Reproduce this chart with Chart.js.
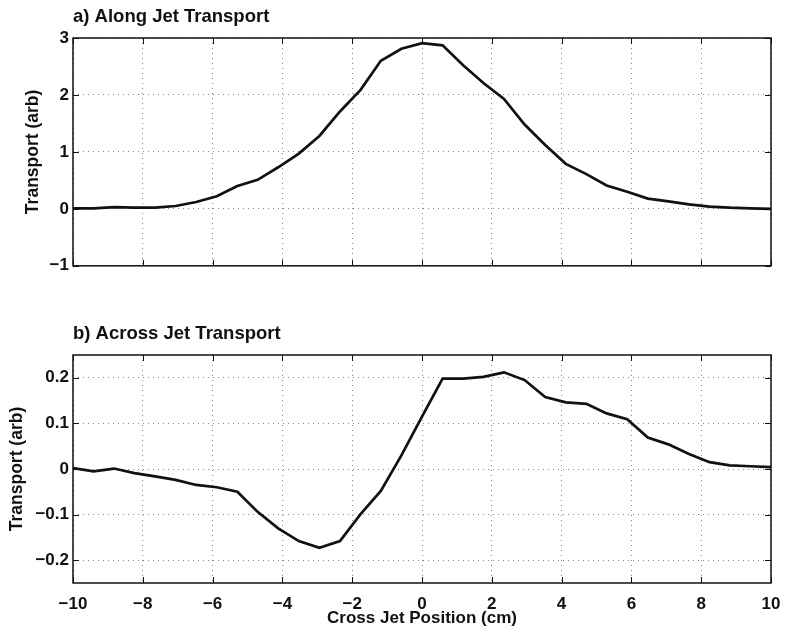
<!DOCTYPE html>
<html><head><meta charset="utf-8">
<script src="https://cdn.jsdelivr.net/npm/chart.js@4/dist/chart.umd.min.js"></script>
<style>
html,body{margin:0;padding:0;background:#fff;}
#wrap{position:relative;width:785px;height:634px;overflow:hidden;}
#c1{position:absolute;left:0;top:0;}
#c2{position:absolute;left:0;top:280px;}
</style></head>
<body><div id="wrap"><canvas id="c1" width="785" height="280"></canvas><canvas id="c2" width="785" height="354"></canvas></div>
<script>
const positions = [-10,-9.41,-8.82,-8.24,-7.65,-7.06,-6.47,-5.88,-5.29,-4.71,-4.12,-3.53,-2.94,-2.35,-1.76,-1.18,-0.59,0,0.59,1.18,1.76,2.35,2.94,3.53,4.12,4.71,5.29,5.88,6.47,7.06,7.65,8.24,8.82,9.41,10];
const alongJet = [0.01,0.01,0.03,0.02,0.02,0.05,0.12,0.22,0.40,0.51,0.73,0.97,1.28,1.71,2.09,2.60,2.81,2.91,2.87,2.52,2.21,1.93,1.48,1.12,0.79,0.61,0.41,0.30,0.18,0.13,0.08,0.04,0.02,0.01,0.0];
const acrossJet = [0.002,-0.005,0.001,-0.009,-0.016,-0.024,-0.035,-0.040,-0.050,-0.094,-0.130,-0.158,-0.173,-0.158,-0.099,-0.048,0.030,0.115,0.198,0.198,0.202,0.212,0.195,0.158,0.146,0.143,0.122,0.109,0.069,0.054,0.033,0.015,0.008,0.006,0.004];
const xTicks = [-10,-8,-6,-4,-2,0,2,4,6,8,10];
const yTicksTop = [-1,0,1,2,3];
const yTicksBottom = [-0.2,-0.1,0,0.1,0.2];
const titles = ['a) Along Jet Transport','b) Across Jet Transport'];
const xLabel = 'Cross Jet Position (cm)';
const yLabel = 'Transport (arb)';

const FONT = "'Liberation Sans', Arial, Helvetica, sans-serif";
const fmt = v => String(Math.round(v*10)/10).replace('-', '\u2212');

const framePlugin = {
  id: 'frame',
  afterDraw(chart, args, opts) {
    const ctx = chart.ctx, a = chart.chartArea;
    const xs = chart.scales.x, ys = chart.scales.y;
    ctx.save();
    ctx.strokeStyle = '#111';
    ctx.lineWidth = 1.5;
    ctx.strokeRect(a.left, a.top, a.right - a.left, a.bottom - a.top);
    ctx.lineWidth = 1;
    const L = 6;
    ctx.beginPath();
    xs.ticks.forEach(t => {
      const px = Math.round(xs.getPixelForValue(t.value)) + 0.5;
      ctx.moveTo(px, a.bottom); ctx.lineTo(px, a.bottom - L);
      ctx.moveTo(px, a.top); ctx.lineTo(px, a.top + L);
    });
    ys.ticks.forEach(t => {
      const py = Math.round(ys.getPixelForValue(t.value)) + 0.5;
      ctx.moveTo(a.left, py); ctx.lineTo(a.left + L, py);
      ctx.moveTo(a.right, py); ctx.lineTo(a.right - L, py);
    });
    ctx.stroke();
    ctx.fillStyle = '#111';
    ctx.font = 'bold 18.5px ' + FONT;
    ctx.textAlign = 'left';
    ctx.textBaseline = 'alphabetic';
    ctx.fillText(opts.title, a.left, a.top - 16);
    ctx.restore();
  }
};

function makeChart(id, values, yMin, yMax, yTicks, showX, title, padTop, padLeft, yTitlePad) {
  return new Chart(document.getElementById(id), {
    type: 'line',
    data: { datasets: [{
      data: positions.map((x, i) => ({x: x, y: values[i]})),
      borderColor: '#111', borderWidth: 2.7, pointRadius: 0, tension: 0, fill: false
    }]},
    options: {
      responsive: false, animation: false, devicePixelRatio: 1,
      layout: { padding: { top: padTop, right: 14, left: padLeft, bottom: showX ? 0 : 14 } },
      plugins: { legend: {display: false}, tooltip: {enabled: false}, frame: { title: title } },
      scales: {
        x: {
          type: 'linear', min: -10, max: 10,
          afterBuildTicks: s => { s.ticks = xTicks.map(v => ({value: v})); },
          ticks: { display: showX, color: '#111', font: {family: FONT, size: 17, weight: 'bold'}, padding: 11, maxRotation: 0, callback: v => fmt(v) },
          grid: { color: '#888', lineWidth: 1, drawTicks: false },
          border: { display: false, dash: [1, 4] },
          title: { display: showX, text: xLabel, color: '#111', font: {family: FONT, size: 17, weight: 'bold'}, padding: {top: 0, bottom: 5} },
          afterFit: s => { s.height = showX ? 51 : 0; s.paddingLeft = 0; s.paddingRight = 0; }
        },
        y: {
          type: 'linear', min: yMin, max: yMax,
          afterBuildTicks: s => { s.ticks = yTicks.map(v => ({value: v})); },
          ticks: { color: '#111', font: {family: FONT, size: 17, weight: 'bold'}, padding: 4, callback: v => fmt(v) },
          grid: { color: '#888', lineWidth: 1, drawTicks: false },
          border: { display: false, dash: [1, 4] },
          title: { display: true, text: yLabel, color: '#111', font: {family: FONT, size: 17.5, weight: 'bold'}, padding: {top: yTitlePad, bottom: 0} },
          afterFit: s => { s.width = 73 - padLeft; }
        }
      }
    },
    plugins: [framePlugin]
  });
}

makeChart('c1', alongJet, -1, 3, yTicksTop, false, titles[0], 38, 14, 9);
makeChart('c2', acrossJet, -0.25, 0.25, yTicksBottom, true, titles[1], 75, 0, 7);
</script></body></html>
